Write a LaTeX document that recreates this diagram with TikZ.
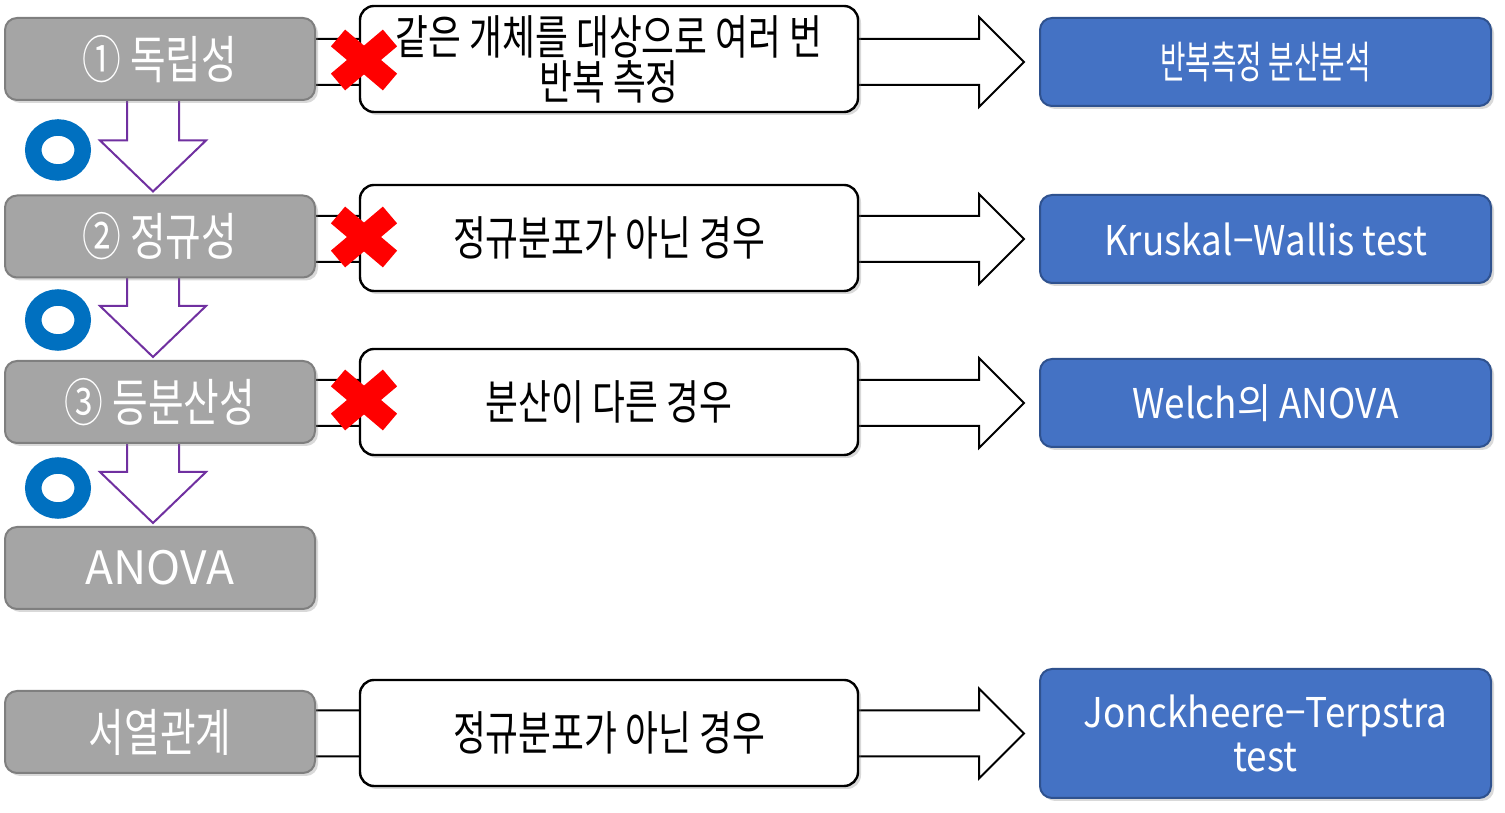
\documentclass[tikz,border=0pt]{standalone}
\usepackage{fontspec}
\setmainfont{Noto Sans CJK KR}
\newfontfamily\narrowkr[FakeStretch=0.76]{Noto Sans CJK KR}
\newfontfamily\tightkr[FakeStretch=0.63]{Noto Sans CJK KR}
\newfontfamily\bluelatin[FakeStretch=0.9]{Noto Sans CJK KR}
\usetikzlibrary{calc,shadows}
\pgfdeclarelayer{background}
\pgfsetlayers{background,main}
\definecolor{boxgray}{HTML}{A5A5A5}
\definecolor{boxgrayline}{HTML}{7F7F7F}
\definecolor{testblue}{HTML}{4472C4}
\definecolor{testblueline}{HTML}{2F528F}
\definecolor{okblue}{HTML}{0070C0}
\definecolor{arrowpurple}{HTML}{7030A0}
\tikzset{
  softshadow/.style={drop shadow={opacity=0.3,shadow xshift=1.5pt,shadow yshift=-1.5pt}},
  cond/.style={draw=boxgrayline, line width=1pt, fill=boxgray, rounded corners=6pt,
    minimum width=155pt, minimum height=41pt, text=white,
    font=\narrowkr\fontsize{25.5}{28}\selectfont, softshadow},
  case/.style={draw=black, line width=1.2pt, fill=white, rounded corners=7pt,
    minimum width=249pt, minimum height=53pt, align=center,
    font=\narrowkr\fontsize{23.5}{26}\selectfont, softshadow},
  test/.style={draw=testblueline, line width=1pt, fill=testblue, rounded corners=6pt,
    minimum width=225.5pt, minimum height=44pt, text=white, align=center,
    font=\bluelatin\fontsize{20.5}{22}\selectfont, softshadow},
  hollow/.style={draw=black, line width=1pt, fill=white},
  downhollow/.style={draw=arrowpurple, line width=1pt, fill=white},
  nomark/.style={red, line width=11pt},
  okmark/.style={okblue, line width=8.25pt}
}
% wide hollow arrow from a condition box to a test box
\newcommand\sidearrow[2]{%
  \draw[hollow] ($(#1.east |- #2.west)+(-2,23)$) -- ($(#2.west)+(-60,23)$)
    -- ($(#2.west)+(-60,45)$) -- ($(#2.west)+(-15,0)$) -- ($(#2.west)+(-60,-45)$)
    -- ($(#2.west)+(-60,-23)$) -- ($(#1.east |- #2.west)+(-2,-23)$);}
% hollow arrow down to the next condition
\newcommand\flowarrow[2]{%
  \draw[downhollow] ($(#1.south)+(-33,2)$) -- ($(#2.north)+(-33,54)$)
    -- ($(#2.north)+(-60,54)$) -- ($(#2.north)+(-7,3)$) -- ($(#2.north)+(46,54)$)
    -- ($(#2.north)+(19,54)$) -- ($(#1.south)+(19,2)$);}
\begin{document}
\begin{tikzpicture}[x=0.5pt,y=0.5pt]
  \useasboundingbox (0,0) rectangle (1505,813);

  \node[cond] (indep) at (160,754) {① 독립성};
  \node[cond] (normal) at (160,576.5) {② 정규성};
  \node[cond] (equalvar) at (160,411) {③ 등분산성};
  \node[cond,font=\fontsize{23}{26}\selectfont] (anova) at (160,245) {ANOVA};
  \node[cond] (order) at (160,81) {서열관계};

  \node[case,font=\narrowkr\fontsize{23.5}{22.5}\selectfont] (repeat) at (609,754) {같은 개체를 대상으로 여러 번\\반복 측정};
  \node[case] (nonnormal) at (609,575) {정규분포가 아닌 경우};
  \node[case] (unequal) at (609,411) {분산이 다른 경우};
  \node[case] (ordnonnormal) at (609,80) {정규분포가 아닌 경우};

  \node[test,font=\tightkr\fontsize{22}{24}\selectfont] (rmanova) at (1265.5,751) {반복측정 분산분석};
  \node[test] (kruskal) at (1265.5,574) {Kruskal−Wallis test};
  \node[test] (welch) at (1265.5,410) {Welch의 ANOVA};
  \node[test,minimum height=64.5pt] (jonck) at (1265.5,79.5) {Jonckheere−Terpstra\\test};

  \begin{pgfonlayer}{background}
    \sidearrow{indep}{rmanova}
    \sidearrow{normal}{kruskal}
    \sidearrow{equalvar}{welch}
    \sidearrow{order}{jonck}
    \flowarrow{indep}{normal}
    \flowarrow{normal}{equalvar}
    \flowarrow{equalvar}{anova}
  \end{pgfonlayer}

  \foreach \y in {663,493,325}
    \draw[okmark] (58,\y) ellipse [x radius=24.75, y radius=22.5];
  \foreach \y in {753,576,413} {
    \draw[nomark] (338,{\y-22}) -- (390,{\y+22});
    \draw[nomark] (338,{\y+22}) -- (390,{\y-22});
  }
\end{tikzpicture}
\end{document}
